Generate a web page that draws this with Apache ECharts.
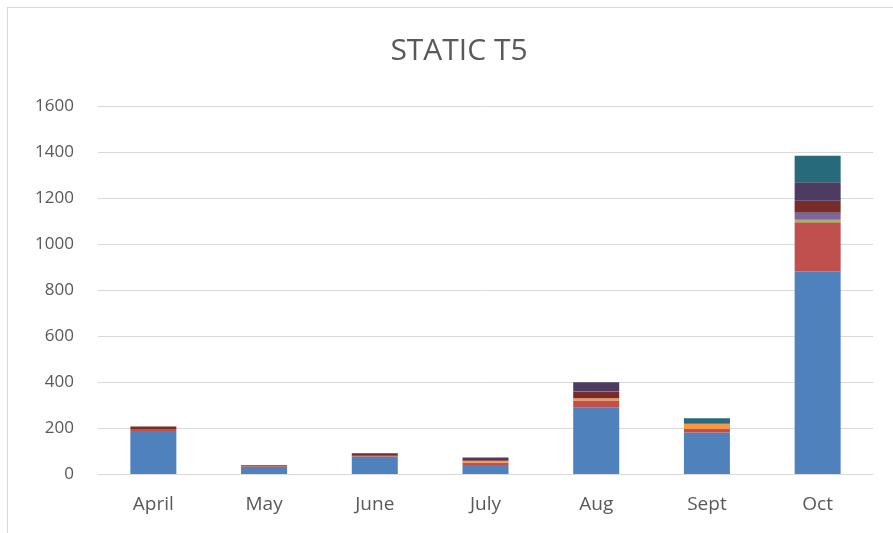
<!DOCTYPE html>
<html>
<head>
<meta charset="utf-8">
<script src="https://cdn.jsdelivr.net/npm/echarts@6/dist/echarts.min.js"></script>
<style>
  html, body { margin: 0; padding: 0; background: #ffffff; }
  #frame { position: absolute; left: 7px; top: 7px; width: 900px; height: 540px; border: 1px solid #d9d9d9; box-sizing: border-box; }
  #chart { position: absolute; left: 0; top: 0; width: 893px; height: 533px; }
</style>
</head>
<body>
<div id="frame"></div>
<div id="chart"></div>
<script>
// Months on the category axis
const months = ['April', 'May', 'June', 'July', 'Aug', 'Sept', 'Oct'];

// Stacked segments, bottom to top
const s1 = [187, 32, 76, 39, 290, 180, 880];
const s2 = [9, 7, 3, 10, 30, 16, 215];
const s3 = [0, 0, 0, 0, 0, 0, 10];
const s4 = [0, 0, 0, 0, 0, 0, 26];
const s5 = [0, 0, 0, 0, 0, 0, 0];
const s6 = [0, 0, 0, 9, 9, 22, 0];
const s7 = [0, 0, 0, 0, 0, 0, 6];
const s8 = [10, 0, 11, 7, 29, 0, 51];
const s9 = [0, 0, 0, 0, 3, 0, 0];
const s10 = [0, 0, 0, 7, 38, 0, 80];
const s11 = [0, 0, 0, 0, 0, 24, 116];

// Value axis ticks
const yMin = 0, yMax = 1600, yStep = 200;

const stackSeries = [s1, s2, s3, s4, s5, s6, s7, s8, s9, s10, s11];
const colors = ['#4F81BD', '#C0504D', '#9BBB59', '#8064A2', '#4BACC6', '#F79646',
                '#2C4D75', '#772C2A', '#5F7530', '#4D3B62', '#276A7C'];

const font = 'Open Sans, Liberation Sans, sans-serif';
const chart = echarts.init(document.getElementById('chart'));
chart.setOption({
  animation: false,
  title: {
    text: 'STATIC T5',
    left: 454, top: 31, textAlign: 'center',
    textStyle: { fontFamily: font, fontSize: 30, fontWeight: 'normal', color: '#595959' }
  },
  grid: { left: 98, right: 20, top: 106, bottom: 59, containLabel: false },
  xAxis: {
    type: 'category',
    data: months,
    axisLine: { lineStyle: { color: '#d9d9d9' } },
    axisTick: { show: false },
    axisLabel: { color: '#595959', fontSize: 19, margin: 21, fontFamily: font }
  },
  yAxis: {
    type: 'value',
    min: yMin, max: yMax, interval: yStep,
    axisLine: { show: false },
    axisTick: { show: false },
    splitLine: { lineStyle: { color: '#d9d9d9' } },
    axisLabel: { color: '#595959', fontSize: 17, margin: 24, fontFamily: font, formatter: v => String(v) }
  },
  series: stackSeries.map((d, i) => ({
    name: 'Series ' + (i + 1),
    type: 'bar',
    stack: 'total',
    barWidth: 46,
    data: d,
    itemStyle: { color: colors[i] }
  }))
});
</script>
</body>
</html>
